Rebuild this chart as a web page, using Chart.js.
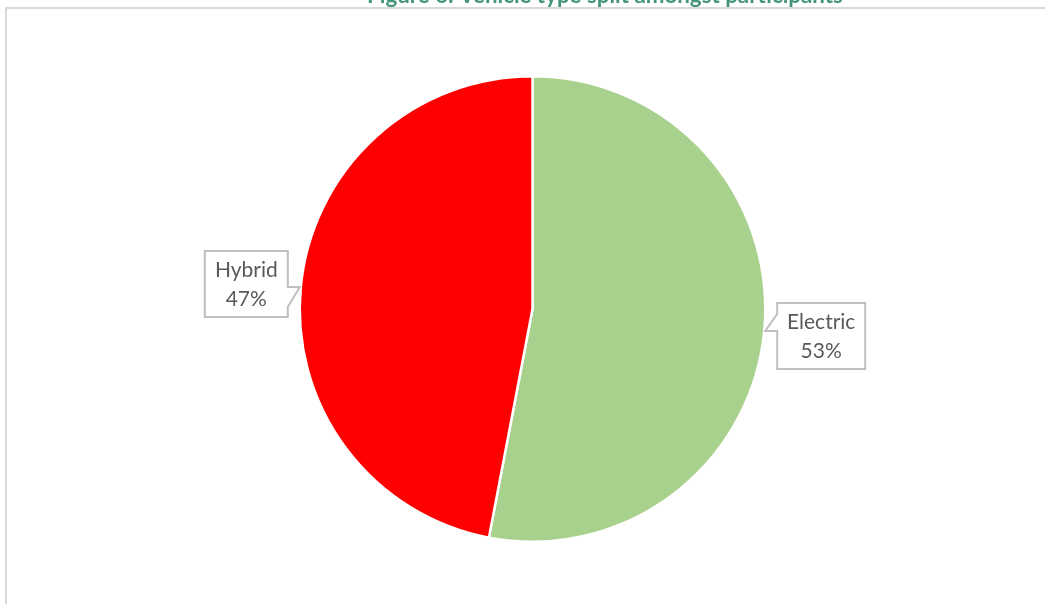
<!DOCTYPE html>
<html>
<head>
<meta charset="utf-8">
<script src="https://cdn.jsdelivr.net/npm/chart.js@4.4.1/dist/chart.umd.min.js"></script>
<style>
  html, body { margin: 0; padding: 0; background: #ffffff; }
  #c { display: block; }
</style>
</head>
<body>
<canvas id="c" width="1045" height="604"></canvas>
<script>
// ---- data ----
const chartTitle = 'Figure 6: Vehicle type split amongst participants';
const categories = ['Electric', 'Hybrid'];
const shares = [53, 47];          // percent
const sliceColors = ['#a9d18e', '#ff0000'];

// ---- frame + title (cropped at top, like the source) ----
const framePlugin = {
  id: 'frame',
  beforeDraw(chart) {
    const ctx = chart.ctx;
    ctx.save();
    ctx.fillStyle = '#ffffff';
    ctx.fillRect(0, 0, chart.width, chart.height);
    ctx.strokeStyle = '#d9d9d9';
    ctx.lineWidth = 2;
    ctx.beginPath();
    ctx.moveTo(6, chart.height + 5);
    ctx.lineTo(6, 8);
    ctx.lineTo(chart.width + 5, 8);
    ctx.stroke();
    // title
    let size = 20;
    ctx.font = 'bold ' + size + 'px Lato, "Open Sans", sans-serif';
    const w = ctx.measureText(chartTitle).width;
    size = size * 476 / w;
    ctx.font = 'bold ' + size.toFixed(2) + 'px Lato, "Open Sans", sans-serif';
    ctx.fillStyle = '#44957a';
    ctx.textAlign = 'center';
    ctx.textBaseline = 'alphabetic';
    ctx.fillText(chartTitle, 605, 3);
    ctx.restore();
  }
};

// ---- callout labels ----
const calloutPlugin = {
  id: 'callouts',
  afterDatasetsDraw(chart) {
    const ctx = chart.ctx;
    const meta = chart.getDatasetMeta(0);
    ctx.save();
    ctx.font = '21px Lato, "Open Sans", sans-serif';
    meta.data.forEach((arc, i) => {
      const p = arc.getProps(['x', 'y', 'startAngle', 'endAngle', 'outerRadius'], true);
      const mid = (p.startAngle + p.endAngle) / 2;
      const r = p.outerRadius + 1;
      const tx = p.x + Math.cos(mid) * r;
      const ty = p.y + Math.sin(mid) * r;
      const right = Math.cos(mid) >= 0;
      const below = Math.sin(mid) >= 0;
      const l1 = categories[i];
      const l2 = shares[i] + '%';
      const tw = Math.max(ctx.measureText(l1).width, ctx.measureText(l2).width);
      const bw = Math.round(tw + 20);
      const bh = 66;
      const gap = 12;
      const cy = below ? ty + 5 : ty - 3;
      const top = cy - bh / 2, bot = cy + bh / 2;
      const left = right ? tx + gap : tx - gap - bw;
      const rgt = left + bw;
      // wedge base on side facing the pie
      const w0 = below ? ty - 17 : ty;
      const w1 = below ? ty : ty + 20;
      ctx.beginPath();
      if (right) {
        ctx.moveTo(left, top);
        ctx.lineTo(rgt, top);
        ctx.lineTo(rgt, bot);
        ctx.lineTo(left, bot);
        ctx.lineTo(left, w1);
        ctx.lineTo(tx, below ? ty : w1);
        if (!below) ctx.lineTo(tx, ty);
        ctx.lineTo(left, w0);
        ctx.closePath();
      } else {
        ctx.moveTo(left, top);
        ctx.lineTo(rgt, top);
        ctx.lineTo(rgt, w0);
        ctx.lineTo(tx, ty);
        ctx.lineTo(rgt, w1);
        ctx.lineTo(rgt, bot);
        ctx.lineTo(left, bot);
        ctx.closePath();
      }
      ctx.fillStyle = '#ffffff';
      ctx.fill();
      ctx.strokeStyle = '#bfbfbf';
      ctx.lineWidth = 2;
      ctx.lineJoin = 'miter';
      ctx.stroke();
      ctx.fillStyle = '#595959';
      ctx.textAlign = 'center';
      ctx.textBaseline = 'middle';
      const cx = (left + rgt) / 2;
      ctx.fillText(l1, cx, cy - 14);
      ctx.fillText(l2, cx, cy + 15);
    });
    ctx.restore();
  }
};

new Chart(document.getElementById('c'), {
  type: 'pie',
  data: {
    labels: categories,
    datasets: [{
      data: shares,
      backgroundColor: sliceColors,
      borderColor: '#ffffff',
      borderWidth: 2.5
    }]
  },
  options: {
    responsive: false,
    maintainAspectRatio: false,
    devicePixelRatio: 1,
    animation: false,
    layout: { padding: { top: 75, bottom: 61, left: 290, right: 270 } },
    plugins: {
      legend: { display: false },
      title: { display: false },
      tooltip: { enabled: false }
    }
  },
  plugins: [framePlugin, calloutPlugin]
});
</script>
</body>
</html>
